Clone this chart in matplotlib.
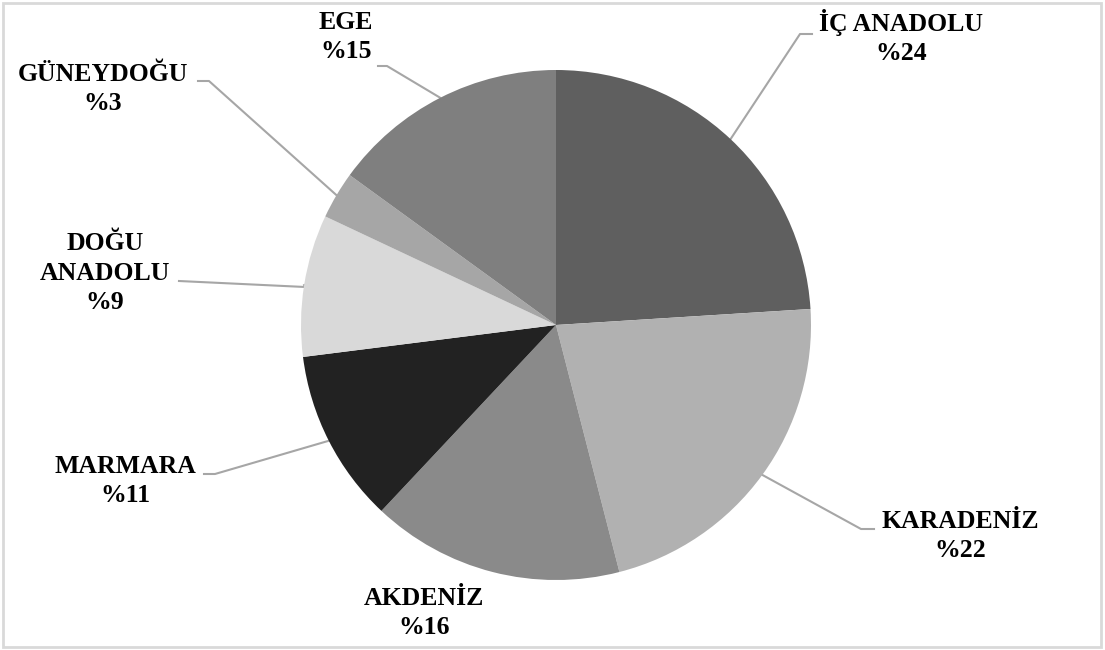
import numpy as np
import matplotlib
matplotlib.use('Agg')
import matplotlib.pyplot as plt
from matplotlib.patches import Rectangle

W, H = 1105, 650

regions = ['İÇ ANADOLU', 'KARADENİZ', 'AKDENİZ', 'MARMARA', 'DOĞU\nANADOLU', 'GÜNEYDOĞU', 'EGE']
shares = [24, 22, 16, 11, 9, 3, 15]
colors = ['#5f5f5f', '#b1b1b1', '#8a8a8a', '#222222', '#d9d9d9', '#a6a6a6', '#7f7f7f']

# label block centre, elbow of leader line, end of short horizontal tail (pixels, y down)
label_pos = [(901, 37), (960, 536), (424, 613), (125, 481), (105, 273), (103, 89), (346, 37)]
elbows = [(800, 34), (861, 529), None, (215, 474), (305, 287), (209, 81), (387, 66)]
tails = [(812, 34), (874, 529), None, (204, 474), (179, 281), (198, 81), (378, 66)]

cx, cy, r = 556, H - 325, 255

fig = plt.figure(figsize=(W / 100, H / 100), dpi=100)
ax = fig.add_axes([0, 0, 1, 1])

fig.patches.append(Rectangle((3, 3), W - 7, H - 6, transform=None, fill=False,
                             edgecolor='#d9d9d9', linewidth=2))

wedges, _ = ax.pie(shares, colors=colors, startangle=90, counterclock=False,
                   center=(cx, cy), radius=r, wedgeprops=dict(linewidth=0))
# pie() resets the limits, so set them afterwards
ax.set_xlim(0, W)
ax.set_ylim(0, H)
ax.set_aspect('equal')
ax.axis('off')

for i, w in enumerate(wedges):
    mid = np.deg2rad((w.theta1 + w.theta2) / 2)
    sx, sy = cx + r * np.cos(mid), cy + r * np.sin(mid)
    if elbows[i] is not None:
        ex, ey = elbows[i][0], H - elbows[i][1]
        tx, ty = tails[i][0], H - tails[i][1]
        ax.plot([sx, ex, tx], [sy, ey, ty], color='#a6a6a6', lw=1.5, zorder=0)
    lx, ly = label_pos[i]
    ax.text(lx, H - ly, f'{regions[i]}\n%{shares[i]}', ha='center', va='center',
            fontsize=18.5, fontweight='bold', family='Liberation Serif',
            linespacing=1.35, color='black')

fig.savefig('out.png', dpi=100)
